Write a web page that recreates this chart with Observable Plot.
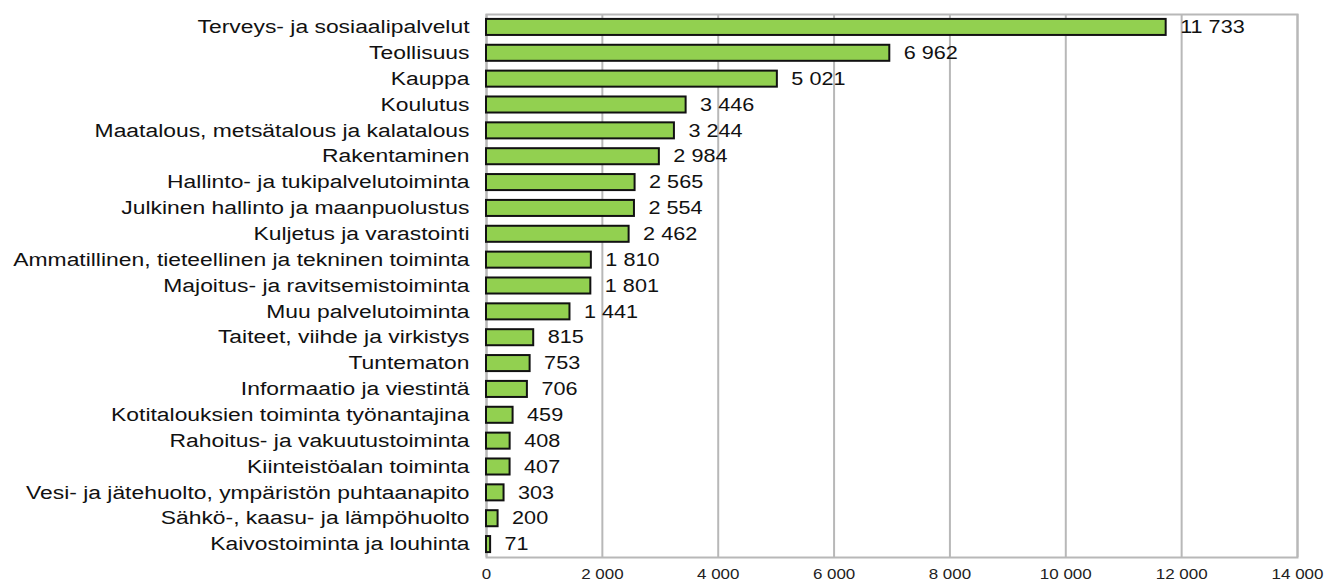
<!DOCTYPE html>
<html><head><meta charset="utf-8">
<script src="https://cdn.jsdelivr.net/npm/d3@7"></script>
<script src="https://cdn.jsdelivr.net/npm/@observablehq/plot@0.6"></script>
<style>body{margin:0;background:#fff;} svg{display:block;}</style>
</head><body><div id="chart"></div>
<script>
const categories = ["Terveys- ja sosiaalipalvelut","Teollisuus","Kauppa","Koulutus","Maatalous, metsätalous ja kalatalous","Rakentaminen","Hallinto- ja tukipalvelutoiminta","Julkinen hallinto ja maanpuolustus","Kuljetus ja varastointi","Ammatillinen, tieteellinen ja tekninen toiminta","Majoitus- ja ravitsemistoiminta","Muu palvelutoiminta","Taiteet, viihde ja virkistys","Tuntematon","Informaatio ja viestintä","Kotitalouksien toiminta työnantajina","Rahoitus- ja vakuutustoiminta","Kiinteistöalan toiminta","Vesi- ja jätehuolto, ympäristön puhtaanapito","Sähkö-, kaasu- ja lämpöhuolto","Kaivostoiminta ja louhinta"];
const values = [11733,6962,5021,3446,3244,2984,2565,2554,2462,1810,1801,1441,815,753,706,459,408,407,303,200,71];
const xTicks = [0,2000,4000,6000,8000,10000,12000,14000];
const data = categories.map((c,i)=>({c, v: values[i]}));
const fmt = d3.formatLocale({thousands:" ", grouping:[3], decimal:","}).format(",d");
const chart = Plot.plot({
  width: 1332, height: 582,
  marginLeft: 486, marginRight: 35, marginTop: 14, marginBottom: 25,
  style: {fontFamily: "Liberation Sans, Arial, sans-serif", background: "#fff"},
  x: {domain: [0,14000], ticks: xTicks, tickFormat: fmt, label: null},
  y: {domain: categories, paddingInner: 0.38, paddingOuter: 0.19, round: false, label: null},
  marks: [
    Plot.gridX(xTicks, {stroke: "#b8b8b8", strokeWidth: 2, strokeOpacity: 1}),
    Plot.frame({stroke: "#b8b8b8", strokeWidth: 2}),
    Plot.barX(data, {x: "v", y: "c", fill: "#92d050", stroke: "#111", strokeWidth: 2}),
    Plot.text(data, {x: "v", y: "c", text: d => fmt(d.v), textAnchor: "start", dx: 14, fontSize: 18, fill: "#111", className: "vlab"}),
    Plot.axisY({tickSize: 0, tickPadding: 17, fontSize: 18, fill: "#111", className: "ylab"}),
    Plot.axisX({ticks: xTicks, tickFormat: fmt, tickSize: 0, tickPadding: 11, fontSize: 15, fill: "#222", className: "xlab"})
  ]
});
document.getElementById("chart").append(chart);
function stretch(sel, k) {
  d3.select(chart).selectAll(sel).each(function() {
    const w = this.getComputedTextLength();
    this.setAttribute("textLength", (w * k).toFixed(1));
    this.setAttribute("lengthAdjust", "spacingAndGlyphs");
  });
}
stretch(".ylab text", 1.27);
stretch(".vlab text", 1.2);
stretch(".xlab text", 1.13);
</script></body></html>
